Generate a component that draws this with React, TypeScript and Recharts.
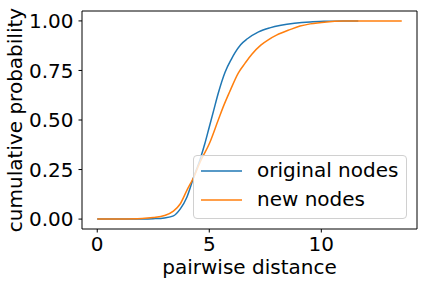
import React from 'react';
import { LineChart, Line, XAxis, YAxis } from 'recharts';

// cumulative distribution of pairwise distances
const originalDist = [0, 1, 2, 2.5, 3, 3.4, 3.7, 4, 4.3, 4.6, 4.8, 5, 5.2, 5.4, 5.7, 6, 6.15, 6.4, 6.7, 7.2, 7.7, 8.2, 8.8, 9.5, 10.2, 11, 11.65];
const originalCdf = [0, 0, 0.0005, 0.002, 0.006, 0.016, 0.05, 0.11, 0.21, 0.305, 0.38, 0.465, 0.55, 0.635, 0.74, 0.81, 0.84, 0.88, 0.91, 0.945, 0.965, 0.978, 0.988, 0.995, 0.998, 0.9995, 1];

const newDist = [0, 1, 2, 2.5, 3, 3.4, 3.7, 4, 4.3, 4.6, 5, 5.4, 5.6, 5.9, 6.3, 6.6, 6.9, 7.3, 7.65, 8, 8.6, 9.05, 9.5, 10.24, 11, 12, 13.59];
const newCdf = [0, 0.0005, 0.003, 0.008, 0.018, 0.04, 0.076, 0.145, 0.21, 0.29, 0.38, 0.5, 0.56, 0.64, 0.738, 0.787, 0.832, 0.878, 0.906, 0.928, 0.956, 0.974, 0.985, 0.995, 0.999, 1, 1];

const xTicks = [0, 5, 10];
const yTicks = [0, 0.25, 0.5, 0.75, 1];
const seriesNames = ['original nodes', 'new nodes'];
const colors = ['#1f77b4', '#ff7f0e'];

const xDomain: [number, number] = [-0.68, 14.27];
const yDomain: [number, number] = [-0.05, 1.05];

const font = '"DejaVu Sans", sans-serif';
const tickStyle = { fill: '#000', fontSize: 20, fontFamily: font };

const originalData = originalDist.map((d, i) => ({ d, p: originalCdf[i] }));
const newData = newDist.map((d, i) => ({ d, p: newCdf[i] }));

function LegendBox() {
  return (
    <div
      style={{
        position: 'absolute',
        left: 193,
        top: 155,
        width: 214,
        height: 64,
        boxSizing: 'border-box',
        border: '1px solid #d0d0d0',
        borderRadius: 4,
        background: 'rgba(255,255,255,0.8)',
        fontFamily: font,
        fontSize: 20,
        color: '#000',
      }}
    >
      {seriesNames.map((name, i) => (
        <div key={name} style={{ display: 'flex', alignItems: 'center', height: 29.3, lineHeight: '29px' }}>
          <svg width={63} height={10} style={{ flexShrink: 0 }}>
            <line x1={7} y1={5} x2={48} y2={5} stroke={colors[i]} strokeWidth={1.5} />
          </svg>
          <span>{name}</span>
        </div>
      ))}
    </div>
  );
}

export default function App() {
  return (
    <div style={{ position: 'absolute', left: 0, top: 0, width: 424, height: 284, background: '#fff' }}>
      <LineChart width={424} height={284} margin={{ top: 10, right: 6, left: 0, bottom: 0 }}>
        <XAxis
          xAxisId="x"
          type="number"
          dataKey="d"
          domain={xDomain}
          ticks={xTicks}
          allowDataOverflow
          height={55}
          tickSize={3.5}
          tickMargin={4}
          tick={tickStyle}
          stroke="#000"
          label={{ value: 'pairwise distance', position: 'insideBottom', offset: 10, style: { ...tickStyle } }}
        />
        <XAxis xAxisId="top" type="number" orientation="top" domain={xDomain} allowDataOverflow height={1} tick={false} tickLine={false} stroke="#000" />
        <YAxis
          yAxisId="y"
          type="number"
          domain={yDomain}
          ticks={yTicks}
          allowDataOverflow
          width={82}
          tickSize={3.5}
          tickMargin={5}
          tick={tickStyle}
          tickFormatter={(v: number) => v.toFixed(2)}
          stroke="#000"
          label={{ value: 'cumulative probability', angle: -90, position: 'insideLeft', offset: 15, style: { ...tickStyle, textAnchor: 'middle' } }}
        />
        <YAxis yAxisId="right" type="number" orientation="right" domain={yDomain} allowDataOverflow width={1} tick={false} tickLine={false} stroke="#000" />
        <Line
          xAxisId="x"
          yAxisId="y"
          data={originalData}
          dataKey="p"
          name={seriesNames[0]}
          type="monotone"
          stroke={colors[0]}
          strokeWidth={1.5}
          dot={false}
          isAnimationActive={false}
        />
        <Line
          xAxisId="x"
          yAxisId="y"
          data={newData}
          dataKey="p"
          name={seriesNames[1]}
          type="monotone"
          stroke={colors[1]}
          strokeWidth={1.5}
          dot={false}
          isAnimationActive={false}
        />
      </LineChart>
      <LegendBox />
    </div>
  );
}
